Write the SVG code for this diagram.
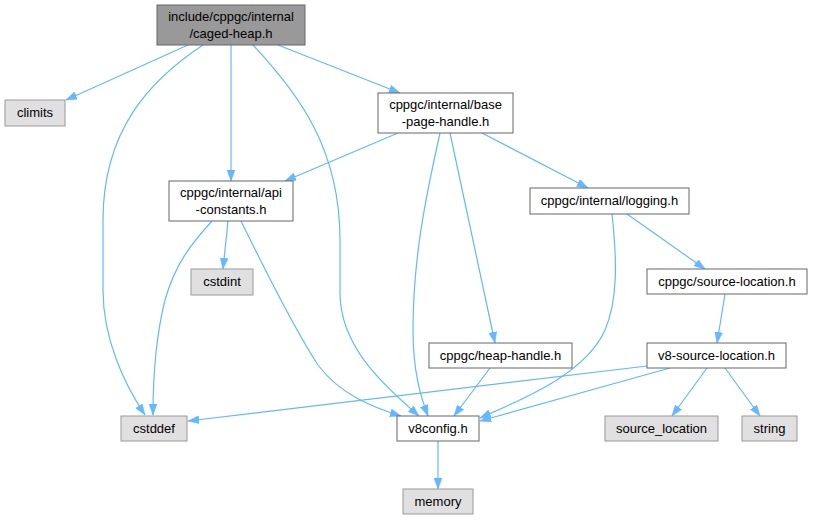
<svg xmlns="http://www.w3.org/2000/svg" width="813" height="520" viewBox="0 0 813 520">
<style>
.n rect{fill:#ffffff;stroke:#666666;stroke-width:1}
.g rect{fill:#e0e0e0;stroke:#999999;stroke-width:1}
.r rect{fill:#999999;stroke:#666666;stroke-width:1}
text{font-family:"Liberation Sans",Arial,sans-serif;font-size:13px;fill:#000000;text-anchor:middle}
#edges path{fill:none;stroke:#63b8ff;stroke-width:1.2;marker-end:url(#ah)}
</style>
<defs>
<marker id="ah" viewBox="0 0 11 8" refX="11" refY="4" markerWidth="11" markerHeight="8" markerUnits="userSpaceOnUse" orient="auto">
<path d="M0,0 L11,4 L0,8 Z" fill="#63b8ff" stroke="#63b8ff" stroke-width="0.5"/>
</marker>
</defs>
<rect x="0" y="0" width="813" height="520" fill="#ffffff"/>
<g id="edges">
<path d="M188,45 L66,100"/>
<path d="M203,45 C150,80 103,130 103,220 L103,290 C103,340 125,385 145,415"/>
<path d="M231,45 L231,181"/>
<path d="M253,45 C300,95 340,150 340,240 L340,293 C340,350 390,390 419,416"/>
<path d="M278,45 L400,93"/>
<path d="M398,133 L285,181"/>
<path d="M440,133 C425,200 413,260 413,330 C413,370 420,395 428,416"/>
<path d="M450,133 L495,343"/>
<path d="M482,133 L588,188"/>
<path d="M212,221 C190,245 175,265 165,300 C155,340 153,380 153,415"/>
<path d="M228,221 L223,269"/>
<path d="M241,221 C265,270 295,330 318,365 C340,395 375,408 401,416"/>
<path d="M612,214 C617,260 618,300 605,330 C585,375 520,400 480,418"/>
<path d="M627,214 L705,269"/>
<path d="M725,294 L717,343"/>
<path d="M647,366 L188,421"/>
<path d="M670,368 L480,421"/>
<path d="M707,368 L672,416"/>
<path d="M725,368 L760,416"/>
<path d="M490,368 L454,416"/>
<path d="M438,441 L438,489"/>
</g>
<g id="node-root" class="r"><rect x="157" y="5" width="148" height="40"/><text x="231" y="21">include/cppgc/internal</text><text x="231" y="38">/caged-heap.h</text></g>
<g id="node-climits" class="g"><rect x="5" y="100" width="60" height="26"/><text x="35" y="117">climits</text></g>
<g id="node-base" class="n"><rect x="378" y="93" width="135" height="40"/><text x="445.5" y="109">cppgc/internal/base</text><text x="445.5" y="126">-page-handle.h</text></g>
<g id="node-api" class="n"><rect x="169" y="181" width="124" height="40"/><text x="231" y="197">cppgc/internal/api</text><text x="231" y="214">-constants.h</text></g>
<g id="node-logging" class="n"><rect x="530" y="188" width="159" height="26"/><text x="609.5" y="205">cppgc/internal/logging.h</text></g>
<g id="node-cstdint" class="g"><rect x="191" y="269" width="62" height="26"/><text x="222" y="286">cstdint</text></g>
<g id="node-srcloc" class="n"><rect x="647" y="269" width="160" height="25"/><text x="727" y="286">cppgc/source-location.h</text></g>
<g id="node-heaphandle" class="n"><rect x="429" y="343" width="143" height="25"/><text x="500.5" y="360">cppgc/heap-handle.h</text></g>
<g id="node-v8srcloc" class="n"><rect x="647" y="343" width="139" height="25"/><text x="716.5" y="360">v8-source-location.h</text></g>
<g id="node-cstddef" class="g"><rect x="121" y="416" width="66" height="25"/><text x="154" y="433">cstddef</text></g>
<g id="node-v8config" class="n"><rect x="397" y="416" width="82" height="25"/><text x="438" y="433">v8config.h</text></g>
<g id="node-source_location" class="g"><rect x="605" y="416" width="113" height="25"/><text x="661.5" y="433">source_location</text></g>
<g id="node-string" class="g"><rect x="742" y="416" width="55" height="25"/><text x="769.5" y="433">string</text></g>
<g id="node-memory" class="g"><rect x="403" y="489" width="70" height="25"/><text x="438" y="506">memory</text></g>
</svg>
